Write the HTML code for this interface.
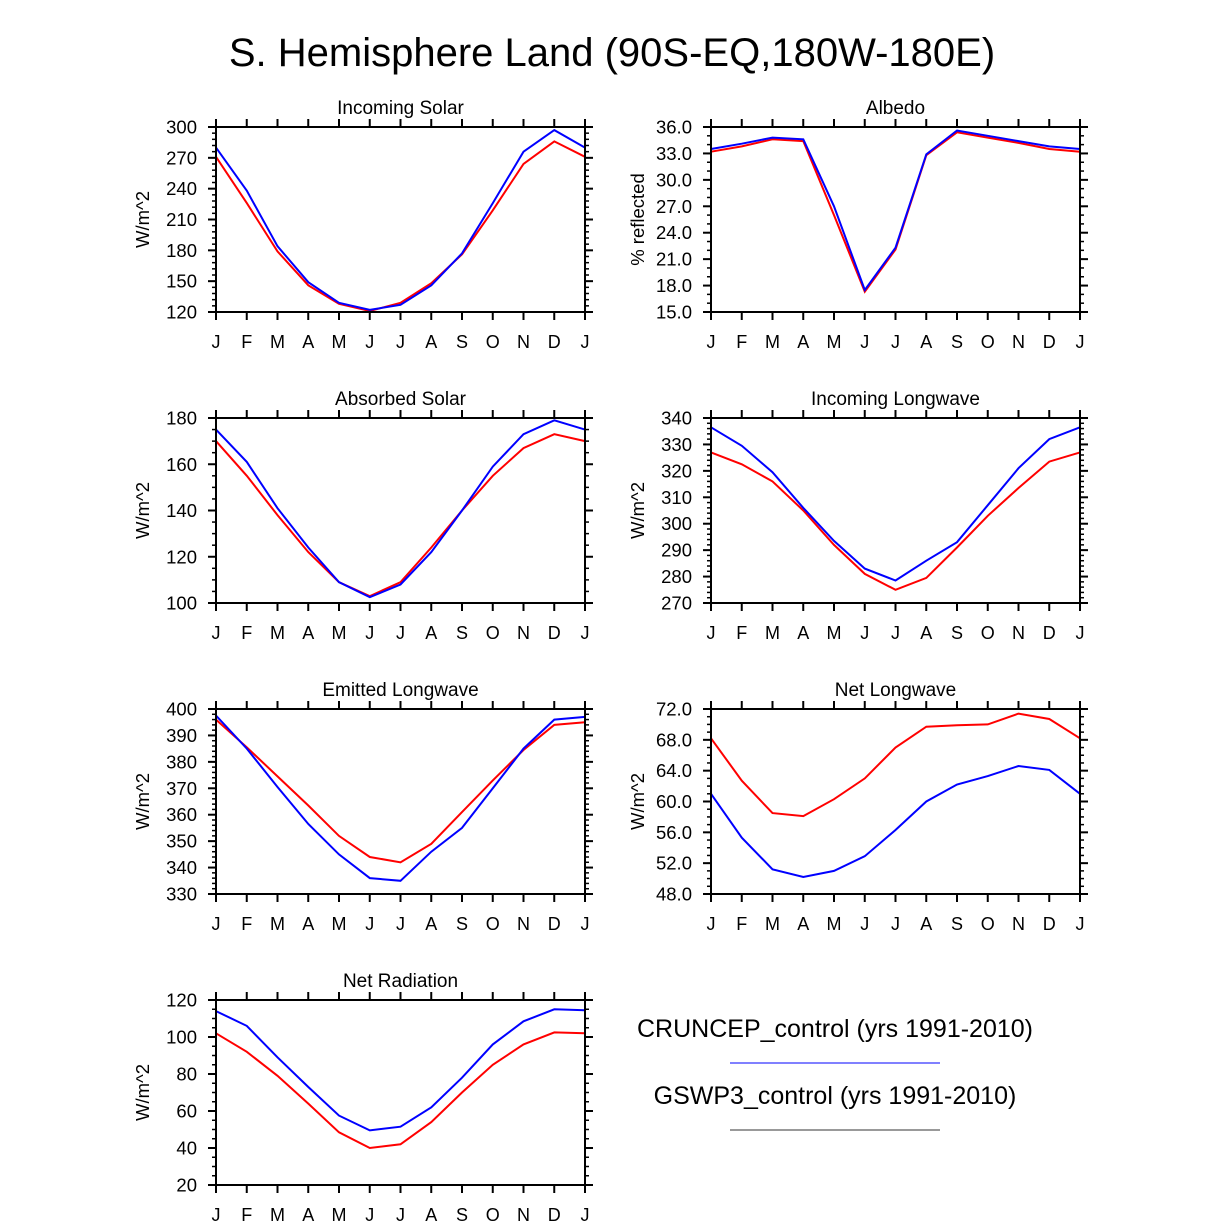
<!DOCTYPE html>
<html><head><meta charset="utf-8"><style>
body{margin:0;background:#fff;}
svg{display:block;font-family:"Liberation Sans",sans-serif;}
</style></head><body>
<svg id="chart" width="1224" height="1222" xmlns="http://www.w3.org/2000/svg">
<rect width="1224" height="1222" fill="#fff"/>
<text x="612" y="66" font-size="40" text-anchor="middle">S. Hemisphere Land (90S-EQ,180W-180E)</text>
<text x="835" y="1037" font-size="25" text-anchor="middle">CRUNCEP_control (yrs 1991-2010)</text>
<line x1="730" y1="1063" x2="940" y2="1063" stroke="#0000ff" stroke-width="1"/>
<text x="835" y="1104" font-size="25" text-anchor="middle">GSWP3_control (yrs 1991-2010)</text>
<line x1="730" y1="1130" x2="940" y2="1130" stroke="#333" stroke-width="1"/>
</svg>
<script>
const months = ["J","F","M","A","M","J","J","A","S","O","N","D","J"];
const incSolarBlue = [280,238,184,149,129,122,127,146,177,226,276,297,280];
const incSolarRed = [271,226,179,146,128,121,129,148,176,219,264,286,271];
const albedoBlue = [33.5,34.1,34.8,34.6,27,17.5,22.3,32.9,35.6,35.0,34.4,33.8,33.5];
const albedoRed = [33.2,33.8,34.6,34.4,26,17.3,22.1,32.8,35.4,34.8,34.2,33.5,33.2];
const absSolarBlue = [175,161,141,124,109,102.5,108,122,140,159,173,179,175];
const absSolarRed = [170,155,138,122,109,103,109,124,140,155,167,173,170];
const incLwBlue = [336.5,329.5,319.5,306,293.5,283,278.5,286,293,307,321,332,336.5];
const incLwRed = [327,322.5,316,305,292,281,275,279.5,291,303,313.5,323.5,327];
const emitLwBlue = [397.5,385,370.5,356.5,345,336,335,346,355,370,385,396,397];
const emitLwRed = [396,385.5,374.5,363.5,352,344,342,349,361,373,384.5,394,395];
const netLwBlue = [61,55.3,51.2,50.2,51,52.9,56.3,60,62.2,63.3,64.6,64.1,61];
const netLwRed = [68.2,62.7,58.5,58.1,60.3,63,67,69.7,69.9,70,71.4,70.7,68.2];
const netRadBlue = [114,106,89,73,57.5,49.5,51.5,62,78,96,108.5,115,114.5];
const netRadRed = [102,92,79,64,48.5,40,42,54,70,85,96,102.5,102];

const NS="http://www.w3.org/2000/svg";
const svg=document.getElementById('chart');
function mk(tag,attrs,parent){const e=document.createElementNS(NS,tag);for(const k in attrs)e.setAttribute(k,attrs[k]);(parent||svg).appendChild(e);return e;}

const panels=[
 {name:"incoming-solar",title:"Incoming Solar",yt:"W/m^2",x0:216,y0:127,min:120,max:300,step:30,minor:6,dec:0,b:incSolarBlue,r:incSolarRed},
 {name:"albedo",title:"Albedo",yt:"% reflected",x0:711,y0:127,min:15,max:36,step:3,minor:1,dec:1,b:albedoBlue,r:albedoRed},
 {name:"absorbed-solar",title:"Absorbed Solar",yt:"W/m^2",x0:216,y0:418,min:100,max:180,step:20,minor:5,dec:0,b:absSolarBlue,r:absSolarRed},
 {name:"incoming-longwave",title:"Incoming Longwave",yt:"W/m^2",x0:711,y0:418,min:270,max:340,step:10,minor:2,dec:0,b:incLwBlue,r:incLwRed},
 {name:"emitted-longwave",title:"Emitted Longwave",yt:"W/m^2",x0:216,y0:709,min:330,max:400,step:10,minor:2,dec:0,b:emitLwBlue,r:emitLwRed},
 {name:"net-longwave",title:"Net Longwave",yt:"W/m^2",x0:711,y0:709,min:48,max:72,step:4,minor:1,dec:1,b:netLwBlue,r:netLwRed},
 {name:"net-radiation",title:"Net Radiation",yt:"W/m^2",x0:216,y0:1000,min:20,max:120,step:20,minor:5,dec:0,b:netRadBlue,r:netRadRed}
];
const W=369,H=185;
panels.forEach(p=>{
 const g=mk('g',{});
 
 
 const xs=i=>p.x0+i*W/12;
 const ys=v=>p.y0+H-(v-p.min)/(p.max-p.min)*H;
 [['r','#ff0000','red'],['b','#0000ff','blue']].forEach(([k,c,n])=>{
  const pts=p[k].map((v,i)=>xs(i).toFixed(1)+','+ys(v).toFixed(1)).join(' ');
  const l=mk('polyline',{points:pts,fill:'none',stroke:c,'stroke-width':2},g);
  
  
 });
 const fr=mk('rect',{x:p.x0,y:p.y0,width:W,height:H,fill:'none',stroke:'#000','stroke-width':2},g);
 
 
 months.forEach((m,i)=>{
  const x=xs(i);
  mk('line',{x1:x,y1:p.y0+H,x2:x,y2:p.y0+H+8,stroke:'#000','stroke-width':2},g);
  mk('line',{x1:x,y1:p.y0,x2:x,y2:p.y0-8,stroke:'#000','stroke-width':2},g);
  const t=mk('text',{x:x,y:p.y0+H+36,'font-size':18,'text-anchor':'middle'},g);
  t.textContent=m;
  
  
 });
 for(let v=p.min;v<=p.max+1e-9;v+=p.minor){
  const y=ys(v);
  mk('line',{x1:p.x0,y1:y,x2:p.x0-4,y2:y,stroke:'#000','stroke-width':1.5},g);
  mk('line',{x1:p.x0+W,y1:y,x2:p.x0+W+4,y2:y,stroke:'#000','stroke-width':1.5},g);
 }
 for(let v=p.min;v<=p.max+1e-9;v+=p.step){
  const y=ys(v);
  mk('line',{x1:p.x0,y1:y,x2:p.x0-8,y2:y,stroke:'#000','stroke-width':2},g);
  mk('line',{x1:p.x0+W,y1:y,x2:p.x0+W+8,y2:y,stroke:'#000','stroke-width':2},g);
  const t=mk('text',{x:p.x0-19,y:y+6.5,'font-size':18.5,'text-anchor':'end'},g);
  t.textContent=v.toFixed(p.dec);
  
  
 }
 const tt=mk('text',{x:p.x0+W/2,y:p.y0-13,'font-size':19,'text-anchor':'middle'},g);
 tt.textContent=p.title;
 
 
 const cx=p.x0-67, cy=p.y0+H/2;
 const yt=mk('text',{x:cx,y:cy,'font-size':18.5,'text-anchor':'middle',transform:`rotate(-90 ${cx} ${cy})`},g);
 yt.textContent=p.yt;
 
 
});
</script>
</body></html>
